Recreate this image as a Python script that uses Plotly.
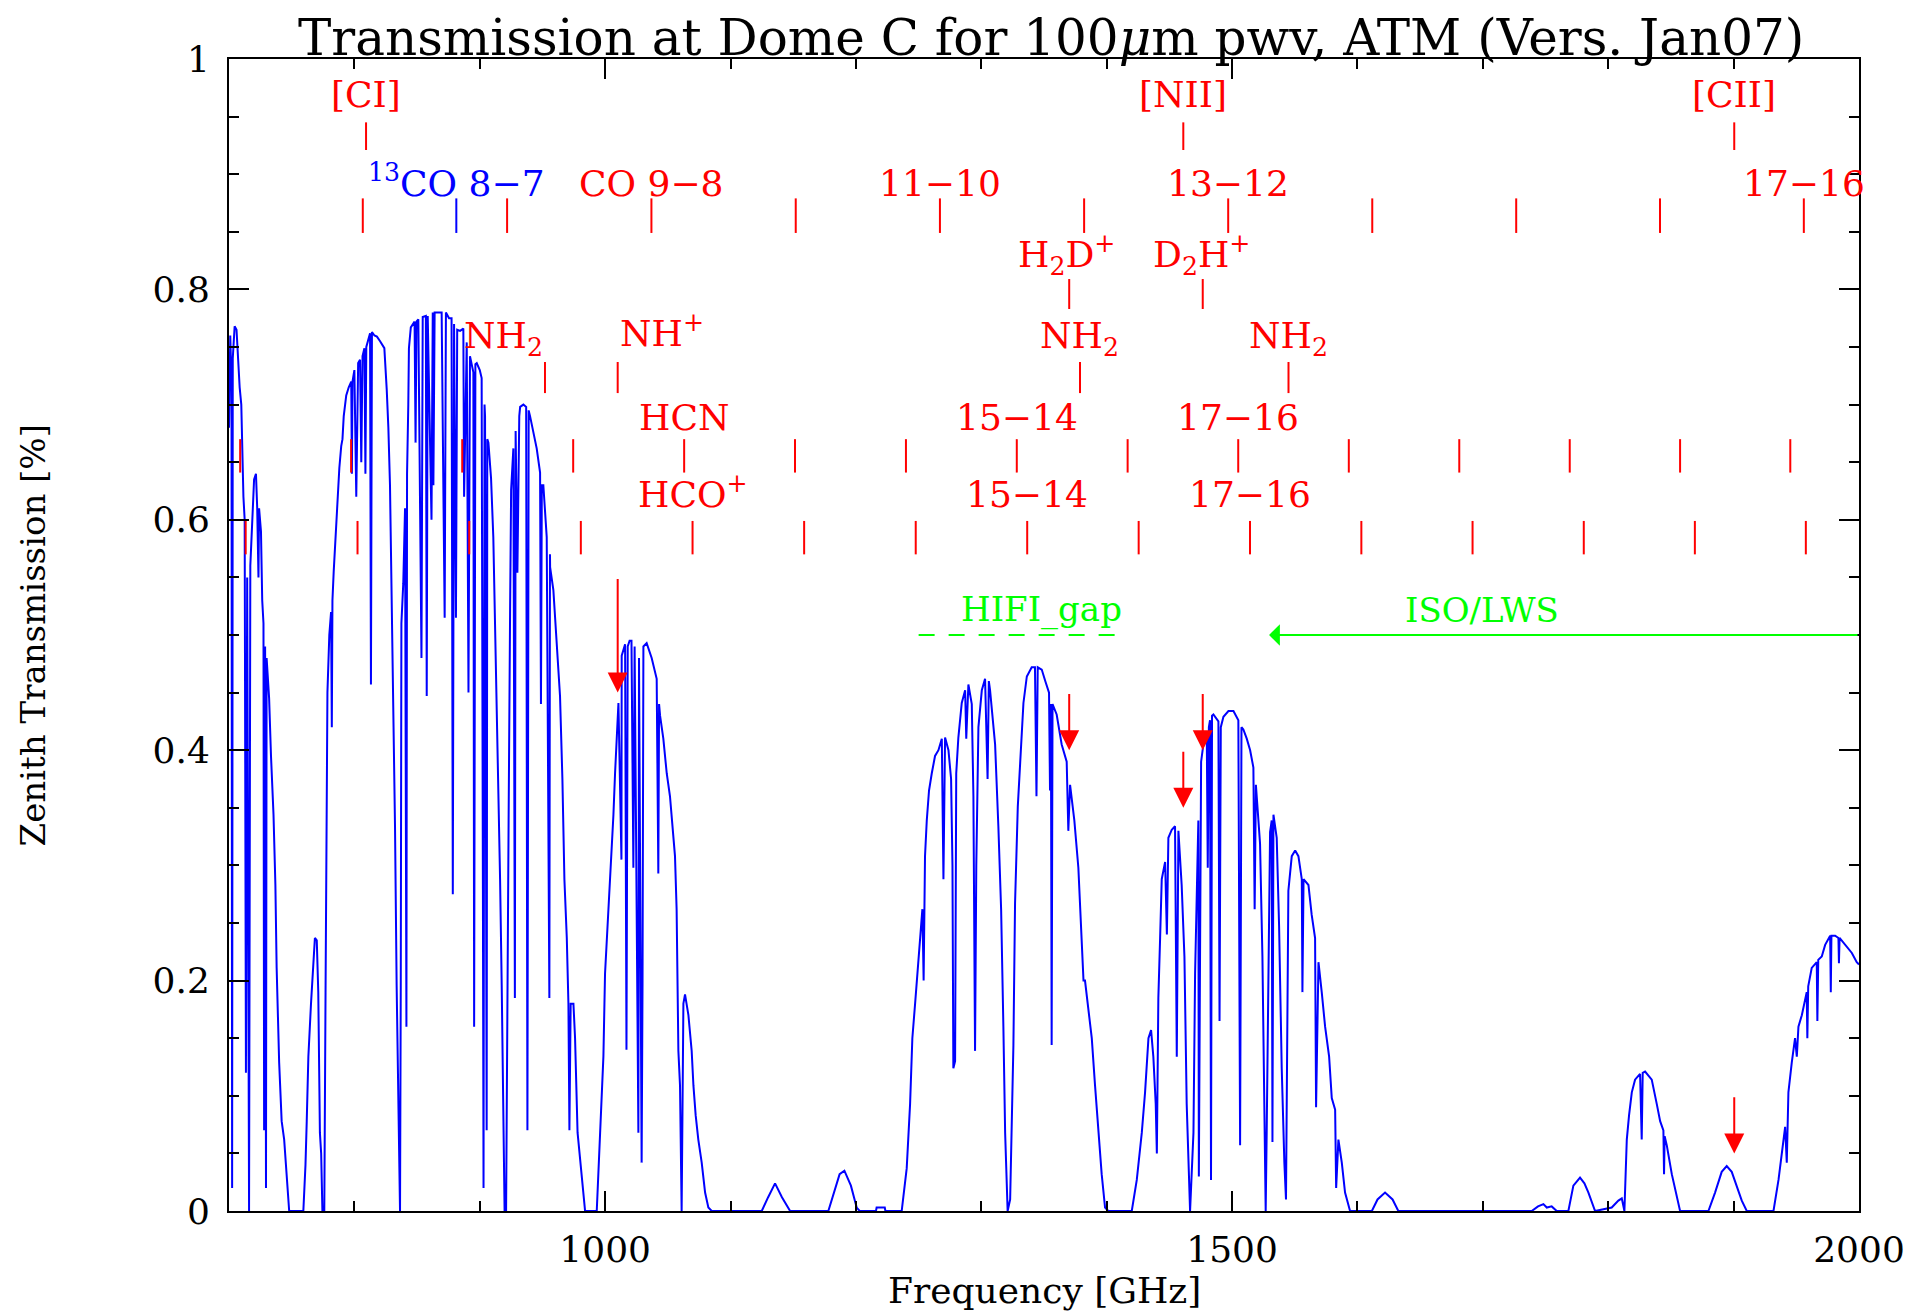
import plotly.graph_objects as go

# Transmission curve (GHz, fraction)
freq_ghz = [
    700.0, 701.0, 702.0, 702.5, 703.0, 704.5, 706.0, 707.0, 708.5, 709.8, 710.5, 711.5, 712.5, 713.5, 714.5,
    716.0, 717.0, 718.5, 720.0, 721.5, 722.5, 723.5, 724.0, 725.5, 726.5, 727.5, 728.0, 728.8, 729.5, 730.0,
    731.0, 732.0, 733.5, 735.5, 737.0, 738.0, 740.0, 742.0, 744.0, 746.0, 748.0,
    759.3, 761.0, 762.0, 763.3, 765.4, 767.3, 768.5, 770.0, 771.2, 772.5, 773.5, 774.5, 776.0, 777.0, 777.5,
    778.5, 780.0, 781.4, 782.0, 782.5, 783.5, 784.5, 786.5, 788.0, 789.5, 790.5, 791.5, 793.5, 795.5, 797.5,
    798.0, 798.5, 800.0, 801.5, 803.0, 804.5, 805.5, 806.5, 808.0, 808.8, 809.5, 811.0, 812.5, 813.2, 814.0,
    816.0, 818.0, 820.5, 823.9, 825.8, 827.1, 828.4, 829.8, 831.1, 832.4, 833.7, 835.1, 836.4, 837.0, 837.5,
    839.0, 840.4, 841.5, 842.0, 843.0, 843.5, 845.0, 848.0, 848.8, 849.5, 851.0, 853.5, 854.5, 857.0, 857.7,
    858.5, 861.5, 862.5, 863.0, 864.0, 866.0, 869.6, 872.0, 873.0, 875.5, 877.5, 878.5, 879.5, 881.0, 882.0,
    884.3, 886.9, 887.5, 889.6, 891.0, 892.2, 894.9, 895.5, 896.5, 897.6, 900.0, 901.5, 902.5, 903.0, 903.8,
    904.2, 905.5, 906.0, 906.9, 909.0, 910.8, 912.2, 913.5, 914.8, 916.2, 917.5, 918.8, 919.8, 921.0, 921.8,
    923.0, 924.2, 925.0, 926.8, 928.0, 928.6, 930.0, 931.5, 932.2, 934.8, 937.0, 938.0, 939.0, 940.1, 942.8,
    945.4, 948.1, 948.8, 949.5, 950.7, 953.4, 955.5, 956.0, 956.1, 958.7, 961.4, 964.0, 965.9, 967.5, 969.4,
    970.7, 971.5, 972.5, 974.7, 976.0, 978.0, 981.3, 984.0,
    993.3, 995.9, 998.6, 999.9, 1002.6, 1004.7, 1006.6, 1007.9, 1010.6, 1013.0, 1013.2, 1015.9, 1017.0, 1018.0,
    1019.5, 1021.0, 1022.5, 1023.5, 1026.5, 1027.0, 1029.1, 1029.8, 1030.5, 1033.1, 1037.1, 1041.1, 1042.4,
    1043.0, 1043.8, 1046.4, 1049.1, 1051.7, 1054.4, 1055.7, 1057.0, 1058.4, 1059.7, 1061.0, 1062.4, 1063.7,
    1066.4, 1069.0, 1070.4, 1072.2, 1074.3, 1077.0, 1079.7, 1082.3, 1085.0,
    1124.9, 1130.0, 1135.5, 1141.0, 1147.5, 1178.0, 1184.0, 1187.0, 1190.8, 1196.0, 1200.6, 1203.0,
    1216.0, 1216.5, 1223.0, 1223.5,
    1236.5, 1240.5, 1243.2, 1245.0, 1247.2, 1249.3, 1251.2, 1253.0, 1254.0, 1255.1, 1256.5, 1258.3, 1260.5,
    1263.1, 1265.8, 1267.1, 1268.5, 1269.8, 1271.1, 1273.8, 1275.9, 1277.0, 1277.7, 1279.1, 1280.0, 1281.7,
    1284.4, 1287.1, 1288.0, 1289.7, 1292.4, 1293.7, 1295.0, 1296.0, 1297.7, 1300.4, 1303.0, 1305.0, 1306.0,
    1307.0, 1311.0, 1313.6, 1315.8, 1317.6, 1319.0, 1321.0, 1323.0, 1325.6, 1326.9, 1329.1, 1331.7, 1333.6,
    1336.3, 1340.2, 1342.8, 1344.0, 1345.0, 1348.2, 1351.0, 1354.0, 1354.8, 1355.5, 1356.1, 1356.8, 1360.1,
    1364.1, 1368.1, 1369.4, 1370.8, 1374.2, 1377.4, 1380.1, 1381.5, 1382.7, 1385.4, 1388.1, 1390.7, 1393.4,
    1396.0, 1398.7, 1401.3,
    1420.0, 1424.0, 1428.0, 1430.6, 1433.3, 1435.4, 1437.2, 1439.1, 1440.0, 1441.2, 1442.6, 1443.9, 1446.6,
    1448.0, 1449.2, 1451.9, 1454.5, 1455.9, 1457.2, 1459.8, 1462.0, 1463.8, 1466.5, 1469.2, 1470.5, 1471.8,
    1473.1, 1473.5, 1475.3, 1477.1, 1479.8, 1480.6, 1481.5, 1482.4, 1483.2, 1484.0, 1485.1, 1489.1, 1490.0,
    1491.0, 1493.1, 1497.1, 1501.1, 1505.0, 1506.4, 1507.5, 1509.0, 1511.7, 1514.4, 1517.0, 1518.0, 1519.0,
    1519.7, 1522.3, 1524.2, 1525.8, 1526.8, 1527.6, 1529.0, 1530.3, 1531.6, 1532.2, 1533.0, 1535.6, 1537.5,
    1539.6, 1541.7, 1543.0, 1544.9, 1547.6, 1550.3, 1552.9, 1555.6, 1556.1, 1557.0, 1560.9, 1563.5, 1566.2,
    1567.0, 1568.9, 1571.5, 1574.2, 1577.4, 1579.5, 1582.2, 1583.0, 1584.8, 1587.5, 1590.1, 1594.1,
    1611.5, 1616.0, 1622.0, 1628.0, 1632.6,
    1739.0, 1744.0, 1748.3, 1751.0, 1754.9, 1758.9, 1768.2, 1772.2, 1777.5, 1781.0, 1784.2, 1789.5,
    1802.8, 1808.1, 1810.8, 1812.9, 1814.8, 1816.6, 1818.8, 1821.4, 1825.4, 1826.7, 1827.5, 1829.4, 1834.7,
    1838.7, 1841.4, 1844.0, 1844.5, 1845.0, 1846.7, 1850.7, 1854.7, 1857.3,
    1879.9, 1885.2, 1890.5, 1894.5, 1898.5, 1902.5, 1906.5, 1910.5,
    1931.8, 1935.8, 1938.4, 1941.1, 1942.4, 1943.0, 1943.7, 1946.4, 1949.0, 1950.4, 1951.7, 1954.4, 1958.3,
    1958.8, 1959.5, 1962.3, 1966.3, 1966.8, 1967.5, 1970.3, 1973.0, 1977.0, 1977.5, 1978.0, 1981.0, 1983.6,
    1984.0, 1984.5, 1988.9, 1994.3, 1998.2, 2000.0,
]
transmission = [
    0.68, 0.76, 0.72, 0.02, 0.74, 0.768, 0.765, 0.74, 0.715, 0.70, 0.66, 0.62, 0.60, 0.12, 0.55,
    0.0, 0.56, 0.60, 0.635, 0.64, 0.61, 0.55, 0.61, 0.59, 0.53, 0.51, 0.07, 0.49, 0.02, 0.48,
    0.46, 0.445, 0.395, 0.344, 0.283, 0.211, 0.129, 0.078, 0.062, 0.032, 0.0,
    0.0, 0.04, 0.078, 0.134, 0.18, 0.219, 0.237, 0.235, 0.19, 0.068, 0.05, 0.0, 0.0, 0.19, 0.32,
    0.45, 0.50, 0.52, 0.42, 0.53, 0.555, 0.575, 0.62, 0.645, 0.664, 0.67, 0.69, 0.708, 0.715, 0.72,
    0.64, 0.72, 0.73, 0.62, 0.736, 0.739, 0.65, 0.742, 0.749, 0.64, 0.75, 0.755, 0.762, 0.457, 0.763,
    0.76, 0.759, 0.755, 0.749, 0.713, 0.68, 0.63, 0.534, 0.431, 0.334, 0.196, 0.068, 0.0, 0.20, 0.51,
    0.545, 0.61, 0.16, 0.64, 0.70, 0.749, 0.767, 0.772, 0.667, 0.772, 0.774, 0.48, 0.776, 0.777, 0.447,
    0.777, 0.60, 0.78, 0.63, 0.78, 0.78, 0.78, 0.515, 0.78, 0.775, 0.775, 0.275, 0.77, 0.515, 0.765,
    0.764, 0.766, 0.62, 0.754, 0.45, 0.742, 0.728, 0.16, 0.735, 0.736, 0.73, 0.723, 0.28, 0.02, 0.70,
    0.69, 0.07, 0.67, 0.667, 0.636, 0.585, 0.513, 0.431, 0.37, 0.288, 0.196, 0.06, 0.0, 0.0, 0.185,
    0.339, 0.523, 0.626, 0.662, 0.185, 0.677, 0.554, 0.69, 0.698, 0.70, 0.698, 0.07, 0.695, 0.69, 0.677,
    0.662, 0.641, 0.44, 0.63, 0.63, 0.585, 0.185, 0.57, 0.559, 0.539, 0.488, 0.447, 0.375, 0.288, 0.237,
    0.18, 0.07, 0.18, 0.18, 0.15, 0.068, 0.032, 0.0,
    0.0, 0.068, 0.134, 0.206, 0.257, 0.308, 0.344, 0.38, 0.441, 0.305, 0.482, 0.492, 0.14, 0.49,
    0.495, 0.495, 0.298, 0.49, 0.068, 0.48, 0.042, 0.196, 0.49, 0.493, 0.48, 0.462, 0.293,
    0.44, 0.43, 0.41, 0.38, 0.36, 0.324, 0.308, 0.262, 0.139, 0.109, 0.0, 0.18, 0.188,
    0.17, 0.139, 0.109, 0.083, 0.062, 0.042, 0.016, 0.003, 0.0,
    0.0, 0.012, 0.024, 0.012, 0.0, 0.0, 0.02, 0.032, 0.035, 0.022, 0.003, 0.0,
    0.0, 0.003, 0.003, 0.0,
    0.0, 0.037, 0.093, 0.15, 0.18, 0.211, 0.237, 0.262, 0.20, 0.308, 0.339, 0.365, 0.38,
    0.395, 0.40, 0.405, 0.41, 0.288, 0.411, 0.40, 0.375, 0.30, 0.124, 0.13, 0.38, 0.411,
    0.441, 0.452, 0.41, 0.457, 0.44, 0.36, 0.139, 0.30, 0.42, 0.452, 0.462, 0.375, 0.46,
    0.452, 0.405, 0.334, 0.262, 0.16, 0.068, 0.0, 0.01, 0.144, 0.267, 0.351, 0.40, 0.441,
    0.464, 0.472, 0.472, 0.36, 0.472, 0.47, 0.46, 0.45, 0.365, 0.44, 0.144, 0.44, 0.431,
    0.405, 0.39, 0.33, 0.37, 0.339, 0.298, 0.237, 0.20, 0.20, 0.175, 0.15, 0.109, 0.068,
    0.032, 0.003, 0.0,
    0.0, 0.027, 0.068, 0.103, 0.15, 0.157, 0.134, 0.093, 0.05, 0.185, 0.237, 0.288, 0.303,
    0.24, 0.324, 0.331, 0.334, 0.134, 0.33, 0.283, 0.221, 0.093, 0.0, 0.068, 0.206, 0.288,
    0.339, 0.03, 0.39, 0.405, 0.416, 0.298, 0.42, 0.426, 0.027, 0.43, 0.431, 0.425, 0.165,
    0.42, 0.429, 0.434, 0.434, 0.426, 0.057, 0.42, 0.418, 0.41, 0.40, 0.385, 0.262, 0.37,
    0.36, 0.319, 0.221, 0.073, 0.0, 0.068, 0.206, 0.329, 0.339, 0.06, 0.344, 0.324, 0.247,
    0.124, 0.042, 0.01, 0.278, 0.308, 0.313, 0.308, 0.288, 0.19, 0.288, 0.283, 0.257, 0.237,
    0.09, 0.216, 0.19, 0.16, 0.134, 0.098, 0.088, 0.02, 0.062, 0.042, 0.016, 0.0,
    0.0, 0.01, 0.016, 0.01, 0.0,
    0.0, 0.004, 0.006, 0.003, 0.004, 0.0, 0.0, 0.022, 0.029, 0.024, 0.016, 0.0,
    0.003, 0.009, 0.011, 0.0, 0.062, 0.083, 0.103, 0.114, 0.119, 0.062, 0.12, 0.121, 0.114,
    0.093, 0.078, 0.07, 0.032, 0.065, 0.057, 0.032, 0.014, 0.0,
    0.0, 0.016, 0.034, 0.039, 0.034, 0.021, 0.009, 0.0,
    0.0, 0.027, 0.052, 0.073, 0.042, 0.08, 0.103, 0.129, 0.15, 0.134, 0.16, 0.17, 0.19,
    0.15, 0.195, 0.211, 0.216, 0.165, 0.218, 0.221, 0.231, 0.239, 0.19, 0.239, 0.239, 0.237,
    0.215, 0.237, 0.231, 0.224, 0.216, 0.214,
]

# line markers (GHz)
fine_struct_lines = [809.3, 1461.1, 1900.5]          # [CI], [NII], [CII]
co_lines = [806.7, 921.8, 1036.9, 1152.0, 1267.0, 1382.0, 1496.9, 1611.8, 1726.6, 1841.3, 1956.0]
co13_lines = [881.3]
h3p_lines = [1370.1, 1476.6]                          # H2D+, D2H+
nh_lines = [952.0, 1010.0, 1378.7, 1545.0]            # NH2, NH+, NH2, NH2
hcn_lines = [708.9, 797.4, 886.0, 974.5, 1063.0, 1151.4, 1239.9, 1328.3, 1416.7,
             1504.9, 1593.1, 1681.2, 1769.3, 1857.3, 1945.2]
hcop_lines = [713.3, 802.5, 891.6, 980.6, 1069.7, 1158.7, 1247.7, 1336.6, 1425.5,
              1514.3, 1603.1, 1691.8, 1780.5, 1869.1, 1957.6]

# arrows: frequency, start and tip transmission
arrow_freq = [1010.0, 1370.1, 1476.6, 1461.1, 1900.5]
arrow_top = [0.55, 0.45, 0.45, 0.40, 0.10]
arrow_tip = [0.45, 0.40, 0.40, 0.35, 0.05]

hifi_gap = [1250, 1410]
iso_lws_start = 1529.5

RED = '#ff0000'
BLUE = '#0000ff'
GREEN = '#00ff00'
FONT = 'DejaVu Serif'


def tick_trace(freqs, y0, y1, color):
    xs, ys = [], []
    for f in freqs:
        xs += [f, f, None]
        ys += [y0, y1, None]
    return go.Scatter(x=xs, y=ys, mode='lines', line=dict(color=color, width=2),
                      showlegend=False, hoverinfo='skip', cliponaxis=False)


fig = go.Figure()

fig.add_trace(go.Scatter(x=freq_ghz, y=transmission, mode='lines',
                         line=dict(color=BLUE, width=2), showlegend=False))

# tick rows
fig.add_trace(tick_trace(fine_struct_lines, 0.921, 0.945, RED))
fig.add_trace(tick_trace(co_lines, 0.849, 0.879, RED))
fig.add_trace(tick_trace(co13_lines, 0.849, 0.879, BLUE))
fig.add_trace(tick_trace(h3p_lines, 0.783, 0.809, RED))
fig.add_trace(tick_trace(nh_lines, 0.710, 0.737, RED))
fig.add_trace(tick_trace(hcn_lines, 0.641, 0.670, RED))
fig.add_trace(tick_trace(hcop_lines, 0.570, 0.599, RED))

# HIFI gap dashed line
fig.add_trace(go.Scatter(x=hifi_gap, y=[0.5, 0.5], mode='lines',
                         line=dict(color=GREEN, width=2, dash='16px,14px'),
                         showlegend=False, hoverinfo='skip'))

ann = []


def label(text, x, y, color=RED, xanchor='center', size=36):
    ann.append(dict(text=text, x=x, y=y, xref='x', yref='y', showarrow=False,
                    xanchor=xanchor, yanchor='middle',
                    font=dict(family=FONT, size=size, color=color)))


label('[CI]', 809.3, 0.969)
label('[NII]', 1461.1, 0.969)
label('[CII]', 1900.5, 0.969)
label('<sup>13</sup>CO 8−7', 881.3, 0.894, color=BLUE)
label('CO 9−8', 1036.9, 0.892)
label('11−10', 1267.0, 0.892)
label('13−12', 1496.9, 0.892)
label('17−16', 1956.0, 0.892)
label('H<sub>2</sub>D<sup>+</sup>', 1368.0, 0.830)
label('D<sub>2</sub>H<sup>+</sup>', 1476.0, 0.830)
label('NH<sub>2</sub>', 952.0, 0.757, xanchor='right')
label('NH<sup>+</sup>', 1010.0, 0.764, xanchor='left')
label('NH<sub>2</sub>', 1378.7, 0.757)
label('NH<sub>2</sub>', 1545.0, 0.757)
label('HCN', 1063.0, 0.689)
label('15−14', 1328.3, 0.689)
label('17−16', 1504.9, 0.689)
label('HCO<sup>+</sup>', 1069.7, 0.624)
label('15−14', 1336.6, 0.622)
label('17−16', 1514.3, 0.622)
label('HIFI_gap', 1348.0, 0.522, color=GREEN, size=34)
label('ISO/LWS', 1699.0, 0.522, color=GREEN, size=34)

for f, top, tip in zip(arrow_freq, arrow_top, arrow_tip):
    ann.append(dict(x=f, y=tip, ax=f, ay=top, xref='x', yref='y', axref='x', ayref='y',
                    text='', showarrow=True, arrowhead=2, arrowsize=2, arrowwidth=2,
                    arrowcolor=RED))

ann.append(dict(x=iso_lws_start, y=0.5, ax=2000, ay=0.5, xref='x', yref='y', axref='x', ayref='y',
                text='', showarrow=True, arrowhead=1, arrowsize=1.8, arrowwidth=2,
                arrowcolor=GREEN))

# axis titles
ann.append(dict(text='Frequency [GHz]', x=0.5, y=-0.069, xref='paper', yref='paper',
                showarrow=False, xanchor='center', yanchor='middle',
                font=dict(family=FONT, size=36, color='black')))
ann.append(dict(text='Zenith Transmission [%]', x=-0.120, y=0.5, xref='paper', yref='paper',
                showarrow=False, xanchor='center', yanchor='middle', textangle=-90,
                font=dict(family=FONT, size=34, color='black')))

# page body adds an 8px margin, so the figure is 8px smaller and shifted margins
fig.update_layout(
    width=1914, height=1304,
    margin=dict(l=221, r=63, t=51, b=101),
    paper_bgcolor='white', plot_bgcolor='white',
    title=dict(text='Transmission at Dome C for 100<i>μ</i>m pwv, ATM (Vers. Jan07)',
               x=0.545, xanchor='center', y=0.977, yanchor='middle',
               font=dict(family=FONT, size=50, color='black')),
    annotations=ann,
    showlegend=False,
)

fig.update_xaxes(range=[700, 2000], showgrid=False, zeroline=False,
                 showline=True, linecolor='black', linewidth=2, mirror='allticks',
                 ticks='inside', ticklen=20, tickwidth=2, tickcolor='black',
                 tick0=0, dtick=500, ticklabelstandoff=6,
                 tickfont=dict(family=FONT, size=36, color='black'),
                 minor=dict(dtick=100, ticks='inside', ticklen=10, tickwidth=2, tickcolor='black'))
fig.update_yaxes(range=[0, 1], showgrid=False, zeroline=False,
                 showline=True, linecolor='black', linewidth=2, mirror='allticks',
                 ticks='inside', ticklen=20, tickwidth=2, tickcolor='black',
                 tick0=0, dtick=0.2, ticklabelstandoff=10,
                 tickfont=dict(family=FONT, size=36, color='black'),
                 minor=dict(dtick=0.05, ticks='inside', ticklen=10, tickwidth=2, tickcolor='black'))

fig.write_html("out.html")
